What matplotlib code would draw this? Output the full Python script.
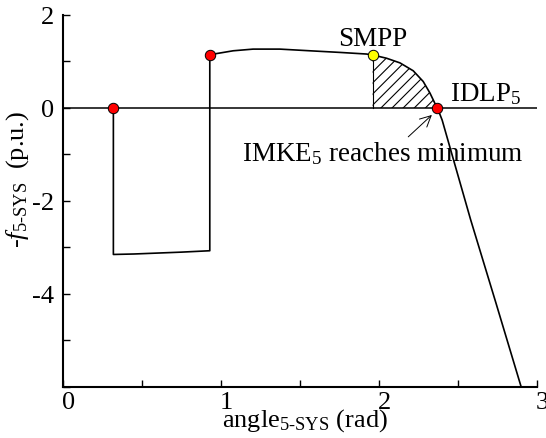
import numpy as np
import matplotlib
matplotlib.use('Agg')
import matplotlib.pyplot as plt
import matplotlib.transforms as mtransforms
from matplotlib.ticker import MultipleLocator, FixedFormatter, FixedLocator

# Dane
angle = [0.32, 0.32, 0.45, 0.60, 0.75, 0.93, 0.93, 0.973, 1.078, 1.204, 1.373, 1.563,
         1.753, 1.922, 1.96, 2.048, 2.133, 2.217, 2.28, 2.323, 2.354, 2.37, 2.40, 2.58,
         2.74, 2.90]
f_sys = [0.0, -3.15, -3.14, -3.12, -3.10, -3.07, 1.14, 1.17, 1.23, 1.266, 1.266, 1.23,
         1.195, 1.16, 1.14, 1.07, 0.97, 0.80, 0.57, 0.32, 0.10, 0.0, -0.26, -2.40,
         -4.19, -6.0]

red_x = [0.32, 0.93, 2.37]
red_y = [0.0, 1.14, 0.0]
smpp_x = [1.96]
smpp_y = [1.14]

# obszar zakreskowany (od SMPP do IDLP5)
hatch_x = [1.96, 2.048, 2.133, 2.217, 2.28, 2.323, 2.354, 2.37]
hatch_y = [1.14, 1.07, 0.97, 0.80, 0.57, 0.32, 0.10, 0.0]

yticks = [2, 0, -2, -4]
ytick_labels = ['2', '0', '-2', '-4']

plt.rcParams['font.family'] = 'Liberation Serif'
plt.rcParams['mathtext.fontset'] = 'custom'
plt.rcParams['mathtext.rm'] = 'Liberation Serif'
plt.rcParams['mathtext.it'] = 'Liberation Serif:italic'
plt.rcParams['axes.unicode_minus'] = False
plt.rcParams['hatch.linewidth'] = 0.8

fig = plt.figure(figsize=(5.46, 4.39), dpi=100)
ax = fig.add_axes([0.115, 0.1162, 0.8685, 0.8474])

ax.axhline(0, color='black', linewidth=1.1, zorder=1)
ax.fill_between(hatch_x, 0, hatch_y, facecolor='none', edgecolor='black',
                hatch='///', linewidth=0, zorder=1)
ax.plot([hatch_x[0], hatch_x[0]], [0, hatch_y[0]], color='black', linewidth=0.8, zorder=1)
ax.plot(angle, f_sys, color='black', linewidth=1.2, zorder=2)
ax.plot(red_x, red_y, 'o', color='red', markeredgecolor='black',
        markeredgewidth=0.7, markersize=7.5, zorder=3)
ax.plot(smpp_x, smpp_y, 'o', color='yellow', markeredgecolor='black',
        markeredgewidth=0.7, markersize=7.5, zorder=3)

ax.text(1.745, 1.35, 'SMPP', fontsize=19.5, va='baseline', ha='left')
ax.text(2.45, 0.17, r'IDLP$_5$', fontsize=19.5, va='baseline', ha='left')
ax.annotate(r'IMKE$_5$ reaches minimum', xy=(2.335, -0.15), xytext=(1.133, -1.13),
            fontsize=19.5, va='baseline', ha='left',
            arrowprops=dict(arrowstyle='->', color='black', lw=0.7,
                            shrinkA=0, shrinkB=0, relpos=(0.58, 1.0)))

ax.set_xlim(0, 3)
ax.set_ylim(-6, 2)
ax.xaxis.set_major_locator(MultipleLocator(1))
ax.xaxis.set_minor_locator(MultipleLocator(0.5))
ax.yaxis.set_major_locator(FixedLocator(yticks))
ax.yaxis.set_major_formatter(FixedFormatter(ytick_labels))
ax.yaxis.set_minor_locator(MultipleLocator(1))
ax.tick_params(which='both', direction='in', length=5, width=1.0, labelsize=19)
ax.tick_params(axis='x', pad=3)
ax.tick_params(axis='y', pad=6)
ax.spines['top'].set_visible(False)
ax.spines['right'].set_visible(False)
ax.spines['left'].set_linewidth(1.5)
ax.spines['bottom'].set_linewidth(1.5)

# etykiety osi X lekko przesunięte w prawo, jak w oryginale
offset = mtransforms.ScaledTranslation(4 / 72, 0, fig.dpi_scale_trans)
for lab in ax.get_xticklabels():
    lab.set_transform(lab.get_transform() + offset)

ax.set_xlabel(r'angle$_{\text{5-SYS}}$ (rad)', fontsize=19)
ax.set_ylabel(r'-$f_{\text{5-SYS}}$  (p.u.)', fontsize=19)
ax.xaxis.set_label_coords(0.51, -0.052)
ax.yaxis.set_label_coords(-0.068, 0.56)

fig.savefig('out.png', dpi=100)
